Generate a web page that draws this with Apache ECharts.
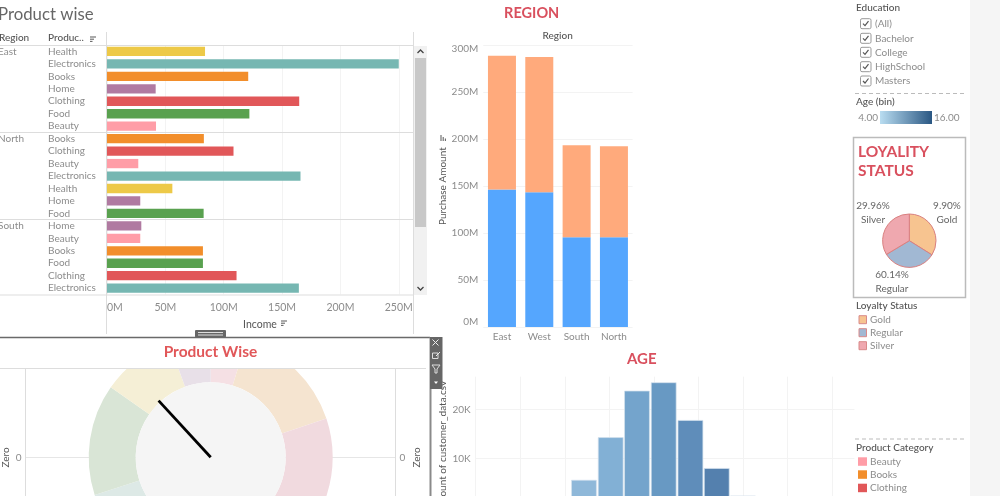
<!DOCTYPE html>
<html lang="en">
<head>
    <meta charset="UTF-8">
    <title>Customer dashboard</title>
    <style>
        html, body { margin: 0; padding: 0; background: #fff; overflow: hidden; }
        #container { width: 1000px; height: 496px; }
    </style>
</head>
<body>
<div id="container"></div>
<script src="https://cdn.jsdelivr.net/npm/echarts@6/dist/echarts.min.js"></script>
<script type="text/javascript">
    // top left, income per product inside each region
    var productRows = ['Health','Electronics','Books','Home','Clothing','Food','Beauty',
        'Books','Clothing','Beauty','Electronics','Health','Home','Food',
        'Home','Beauty','Books','Food','Clothing','Electronics'];
    var regionRows = ['East','','','','','','','North','','','','','','','South','','','','',''];
    var incomeValues = [84,250,121,41.7,164.7,122,42,
        83,108.4,26.8,165.8,56,28.5,82.8,
        29.4,28.5,82.2,82.2,111,164.4];

    // stacked bars
    var regionNames = ['East','West','South','North'];
    var purchaseBlue = [146.4,143.6,95.7,95.7];
    var purchaseOrange = [142.5,144,97.9,96.9];

    // loyalty pie, the slices are drawn about equal in the picture, the labels say otherwise
    var loyaltyNames = ['Gold','Regular','Silver'];
    var loyaltySlices = [122,117,121];
    var loyaltyLabels = ['9.90%','60.14%','29.96%'];

    // donut, clockwise from the top
    var donutNames = ['Beauty','Books','Clothing','Electronics','Food','Health','Home'];
    var donutValues = [17,54.5,72.5,108,53,35,20];
    var needleValue = 317.4;

    // age histogram
    var ageBins = [24.3,30.3,36.2,42.2,48.2,54.1,60];
    var ageCounts = [5600,14300,23800,25500,17800,8000,2400];

    var educationItems = ['(All)','Bachelor','College','HighSchool','Masters'];
    var categoryLegend = ['Beauty','Books','Clothing'];

    var productColors = {
        Beauty:'#FF9DA7', Books:'#F28E2B', Clothing:'#E15759', Electronics:'#76B7B2',
        Food:'#59A14F', Health:'#EDC948', Home:'#B07AA1'
    };
    var donutColors = ['#F5E0E4','#F5E4D0','#F1DADF','#DDE9E6','#D9E5D6','#F5EFD6','#E8E0E8'];
    var loyaltyColors = ['#F7C490','#A1B8D3','#EFA8AF'];
    var ageColors = ['#8FB8D9','#82B0D5','#74A4CC','#6899C3','#5F8DBA','#5480AE','#E6E6E6'];

    var FONT = 'Lato';
    var LABEL = '#8c8c8c';
    var HEAD = '#555';
    var TITLE = '#D9505E';

    function text(x, y, s, size, color, opt) {
        opt = opt || {};
        return {
            type:'text', z:20, x:x, y:y, rotation:opt.rotation || 0,
            style:{ text:s, fontFamily:FONT, fontSize:size, fill:color, fontWeight:opt.weight || 'normal',
                align:opt.align || 'left', verticalAlign:'middle', lineHeight:opt.lineHeight }
        };
    }
    function line(x1, y1, x2, y2, color, w, dash, z) {
        return {
            type:'line', z:z || 20, shape:{x1:x1,y1:y1,x2:x2,y2:y2},
            style:{ stroke:color, lineWidth:w || 1, lineDash:dash }
        };
    }
    function rect(x, y, w, h, fill, stroke, z, r) {
        return {
            type:'rect', z:z || 20, shape:{x:x,y:y,width:w,height:h,r:r || 0},
            style:{ fill:fill, stroke:stroke, lineWidth:stroke ? 1 : 0 }
        };
    }
    function sortIcon(x, y, vertical) {
        // three little strokes getting shorter
        var out = [];
        [6,4,2.5].forEach(function (len, i) {
            if (vertical) out.push(line(x + i * 2.2, y, x + i * 2.2, y - len, '#666', 1.1));
            else out.push(line(x, y + i * 2.2, x + len, y + i * 2.2, '#666', 1.1));
        });
        return out;
    }

    var graphics = [];
    // right side strip
    graphics.push(rect(970, 0, 30, 496, '#F5F5F5'));

    // top left table frame
    graphics.push(text(-2, 15, 'Product wise', 16.8, '#666'));
    graphics.push(text(-1, 38, 'Region', 10, HEAD, {weight:500}));
    graphics.push(text(48, 38, 'Produc..', 10, HEAD, {weight:500}));
    graphics = graphics.concat(sortIcon(90, 37));
    graphics = graphics.concat(sortIcon(281, 321));
    graphics.push(line(106.5, 32, 106.5, 334, '#ddd'));
    graphics.push(line(413.5, 32, 413.5, 334, '#ddd'));
    [45.5, 132.5, 219.5, 295].forEach(function (y) {
        graphics.push(line(0, y, 413, y, '#ddd'));
    });
    // scrollbar
    graphics.push(rect(414, 46, 13, 249, '#F1F1F1'));
    graphics.push(rect(415, 58, 11, 169, '#C8C8C8'));
    graphics.push({type:'polyline', z:20, shape:{points:[[417.5,53],[420.5,50],[423.5,53]]}, style:{stroke:'#444', fill:null, lineWidth:1.3}});
    graphics.push({type:'polyline', z:20, shape:{points:[[417.5,287],[420.5,290],[423.5,287]]}, style:{stroke:'#444', fill:null, lineWidth:1.3}});

    // cover for the donut above its panel, then the panel frame
    graphics.push(rect(0, 334, 430, 34, '#fff', null, 15));
    graphics.push(line(0, 337.5, 430, 337.5, '#6a6a6a', 1.5));
    graphics.push(line(430.5, 337, 430.5, 496, '#8a8a8a', 2));
    graphics.push(line(0, 368.5, 426, 368.5, '#ddd'));
    graphics.push(rect(195, 330, 31, 7.5, '#666', null, 21, 1));
    graphics.push(line(198, 332.5, 223, 332.5, '#ddd', 1, null, 22));
    graphics.push(line(198, 335, 223, 335, '#ddd', 1, null, 22));
    graphics.push(text(210.5, 352, 'Product Wise', 15.5, '#E15759', {align:'center', weight:'bold'}));

    // little toolbar on the panel corner
    graphics.push(rect(430, 337, 12.5, 52, '#666', null, 21));
    graphics.push(line(432.5, 339.5, 438.5, 345.5, '#eee', 1, null, 22));
    graphics.push(line(438.5, 339.5, 432.5, 345.5, '#eee', 1, null, 22));
    graphics.push(rect(432.5, 353, 5.5, 5.5, null, '#ddd', 22));
    graphics.push(line(436, 356, 440, 352, '#eee', 1, null, 22));
    graphics.push({type:'polygon', z:22, shape:{points:[[432,365],[440,365],[437,369],[437,373],[435,373],[435,369]]}, style:{stroke:'#ddd', fill:null, lineWidth:1}});
    graphics.push({type:'polygon', z:22, shape:{points:[[434,381.5],[438,381.5],[436,384]]}, style:{fill:'#fff'}});

    // chart titles
    graphics.push(text(531.7, 13, 'REGION', 14.5, TITLE, {align:'center', weight:'bold'}));
    graphics.push(text(557.7, 35.5, 'Region', 10, HEAD, {align:'center', weight:500}));
    graphics = graphics.concat(sortIcon(441, 141, true));
    graphics.push(text(641.7, 359.5, 'AGE', 15, TITLE, {align:'center', weight:'bold'}));

    // education filter
    graphics.push(text(856, 8, 'Education', 10, HEAD, {weight:500}));
    [23.7,38.3,52.3,66.7,81].forEach(function (y, i) {
        graphics.push(rect(860.5, y - 5, 10.5, 10, '#fff', '#999', 20, 1.5));
        graphics.push({type:'polyline', z:21, shape:{points:[[863,y],[865,y + 2],[868.5,y - 2.5]]}, style:{stroke:'#555', fill:null, lineWidth:1.2}});
        graphics.push(text(875, y, educationItems[i], 10, LABEL));
    });
    graphics.push(line(855, 93.5, 964, 93.5, '#bbb', 1, [4,3]));

    // age color legend
    graphics.push(text(856, 102, 'Age (bin)', 10, HEAD, {weight:500}));
    graphics.push(text(878, 118, '4.00', 10, LABEL, {align:'right'}));
    graphics.push(text(934, 118, '16.00', 10, LABEL));
    graphics.push({
        type:'rect', z:20, shape:{x:880,y:111,width:52,height:13},
        style:{ fill:new echarts.graphic.LinearGradient(0,0,1,0,[{offset:0,color:'#B9DDF1'},{offset:1,color:'#2A5783'}]) }
    });

    // loyalty card
    graphics.push({type:'rect', z:5, shape:{x:853.5,y:137.5,width:112,height:160}, style:{fill:'#fff', stroke:'#bbb', lineWidth:1.5}});
    graphics.push(text(858, 152, 'LOYALITY', 15.5, TITLE, {weight:'bold'}));
    graphics.push(text(858, 171, 'STATUS', 15.5, TITLE, {weight:'bold'}));
    // labels around the pie
    [[947,206],[892,275],[873,206]].forEach(function (p, i) {
        graphics.push(text(p[0], p[1], loyaltyLabels[i], 10, '#666', {align:'center'}));
        graphics.push(text(p[0], p[1] + 13.5, loyaltyNames[i], 10, '#666', {align:'center'}));
    });

    // legends
    graphics.push(text(856, 306, 'Loyalty Status', 10, HEAD, {weight:500}));
    [319.7,332.7,345.7].forEach(function (y, i) {
        graphics.push(rect(859, y - 4, 7.5, 8, loyaltyColors[i], '#D98A8A'));
        graphics.push(text(870, y, loyaltyNames[i], 10, LABEL));
    });
    graphics.push(line(855, 439, 964, 439, '#bbb', 1, [4,3]));
    graphics.push(text(856, 448, 'Product Category', 10, HEAD, {weight:500}));
    [461.3,474.3,487.7].forEach(function (y, i) {
        graphics.push(rect(858, y - 4, 9, 8.5, productColors[categoryLegend[i]]));
        graphics.push(text(870, y, categoryLegend[i], 10, LABEL));
    });

    var chart = echarts.init(document.getElementById('container'));
    var gridLine = {show:true, lineStyle:{color:'#F3F3F3'}};
    var ageGridLine = {show:true, showMaxLine:false, lineStyle:{color:'#F3F3F3'}};
    var option = {
        animation:false,
        textStyle:{fontFamily:FONT},
        grid:[
            {left:107, top:45.2, width:306, height:249.2, outerBoundsMode:'none'},
            {left:483.3, top:45.3, width:149.3, height:281.7, outerBoundsMode:'none'},
            {left:25.5, top:368.5, width:370, height:178, outerBoundsMode:'none'},
            {left:475.7, top:376.7, width:378.7, height:130.6, outerBoundsMode:'none'}
        ],
        xAxis:[
            {
                gridIndex:0, type:'value', min:0, max:262.2, interval:50,
                axisLine:{show:false}, axisTick:{show:false}, splitLine:gridLine,
                axisLabel:{color:LABEL, fontSize:10.5, margin:8, alignMinLabel:'left', showMaxLabel:false,
                    formatter:function (v) { return v + 'M'; }},
                name:'Income', nameLocation:'middle', nameGap:25,
                nameTextStyle:{color:HEAD, fontSize:10.5}
            },
            {
                gridIndex:1, type:'category', data:regionNames,
                axisLine:{show:false}, axisTick:{show:false},
                axisLabel:{color:LABEL, fontSize:10, margin:5}
            },
            {gridIndex:2, type:'value', min:0, max:1, show:false},
            {
                gridIndex:3, type:'value', min:0, max:85, interval:10,
                axisLabel:{show:false}, axisLine:{show:false}, axisTick:{show:false}, splitLine:ageGridLine
            }
        ],
        yAxis:[
            {
                gridIndex:0, type:'category', inverse:true, data:productRows,
                axisLine:{show:false}, axisTick:{show:false},
                axisLabel:{color:LABEL, fontSize:10, margin:59, align:'left', interval:0}
            },
            {
                gridIndex:0, type:'category', inverse:true, position:'left', data:regionRows,
                axisLine:{show:false}, axisTick:{show:false},
                axisLabel:{color:LABEL, fontSize:10, margin:109, align:'left', interval:0}
            },
            {
                gridIndex:1, type:'value', min:0, max:300, interval:50,
                axisLine:{show:false}, axisTick:{show:false}, splitLine:gridLine,
                axisLabel:{color:LABEL, fontSize:10, margin:5, verticalAlignMinLabel:'bottom',
                    formatter:function (v) { return v === 300 ? '{top|' + v + 'M}' : v + 'M'; },
                    rich:{top:{color:LABEL, fontSize:10, padding:[6,0,0,0]}}},
                name:'Purchase Amount', nameLocation:'middle', nameGap:36,
                nameTextStyle:{color:HEAD, fontSize:10}
            },
            {
                gridIndex:2, type:'value', min:-1, max:1, interval:1, position:'left',
                axisLine:{show:true, lineStyle:{color:'#ddd'}}, axisTick:{show:false},
                splitLine:{show:true, lineStyle:{color:'#ccc', type:'dotted'}},
                axisLabel:{color:LABEL, fontSize:10, margin:4, formatter:function (v) { return v === 0 ? '0' : ''; }},
                name:'Zero', nameLocation:'middle', nameGap:15, nameRotate:90,
                nameTextStyle:{color:HEAD, fontSize:10}
            },
            {
                gridIndex:2, type:'value', min:-1, max:1, interval:1, position:'right',
                axisLine:{show:true, lineStyle:{color:'#ddd'}}, axisTick:{show:false}, splitLine:{show:false},
                axisLabel:{color:LABEL, fontSize:10, margin:4, formatter:function (v) { return v === 0 ? '0' : ''; }},
                name:'Zero', nameLocation:'middle', nameGap:16, nameRotate:90,
                nameTextStyle:{color:HEAD, fontSize:10}
            },
            {
                gridIndex:3, type:'value', min:0, max:26650, interval:10000,
                axisLine:{show:false}, axisTick:{show:false}, splitLine:ageGridLine,
                axisLabel:{color:LABEL, fontSize:10, margin:5, showMinLabel:false, showMaxLabel:false,
                    formatter:function (v) { return (v / 1000) + 'K'; }},
                name:'Count of customer_data.csv', nameLocation:'middle', nameGap:28,
                nameTextStyle:{color:HEAD, fontSize:10}
            }
        ],
        series:[
            {
                type:'bar', xAxisIndex:0, yAxisIndex:0, barWidth:9.3,
                data:incomeValues.map(function (v, i) {
                    return {value:v, itemStyle:{color:productColors[productRows[i]]}};
                })
            },
            {type:'bar', xAxisIndex:1, yAxisIndex:2, stack:'r', barWidth:28, itemStyle:{color:'#55A6FE'}, data:purchaseBlue},
            {type:'bar', xAxisIndex:1, yAxisIndex:2, stack:'r', barWidth:28, itemStyle:{color:'#FFAA7C'}, data:purchaseOrange},
            {
                type:'bar', xAxisIndex:3, yAxisIndex:5, barWidth:25.6,
                itemStyle:{borderColor:'#D5E2EE', borderWidth:0.7},
                data:ageBins.map(function (b, i) {
                    return {value:[b, ageCounts[i]], itemStyle:{color:ageColors[i]}};
                })
            },
            {
                type:'pie', center:[210.7,457.3], radius:[75,122], startAngle:90, silent:true,
                label:{show:false}, labelLine:{show:false},
                data:donutNames.map(function (n, i) {
                    return {name:n, value:donutValues[i], itemStyle:{color:donutColors[i]}};
                })
            },
            {
                type:'pie', center:[210.7,457.3], radius:[0,75], silent:true,
                label:{show:false}, labelLine:{show:false},
                data:[{value:1, itemStyle:{color:'#F5F5F5'}}]
            },
            {
                type:'gauge', center:[210.7,457.3], radius:77, startAngle:90, endAngle:-270, min:0, max:360, z:4,
                axisLine:{show:false}, axisTick:{show:false}, splitLine:{show:false}, axisLabel:{show:false},
                title:{show:false}, detail:{show:false}, anchor:{show:false},
                pointer:{icon:'rect', length:'100%', width:2.8, itemStyle:{color:'#000'}},
                data:[{value:needleValue}]
            },
            {
                type:'pie', center:[909.3,240.7], radius:26.7, startAngle:90, z:6,
                itemStyle:{borderColor:'#D98080', borderWidth:1},
                label:{show:false}, labelLine:{show:false},
                data:loyaltyNames.map(function (n, i) {
                    return {name:n, value:loyaltySlices[i], itemStyle:{color:loyaltyColors[i]}};
                })
            }
        ],
        graphic:graphics
    };
    chart.setOption(option);
</script>
</body>
</html>
